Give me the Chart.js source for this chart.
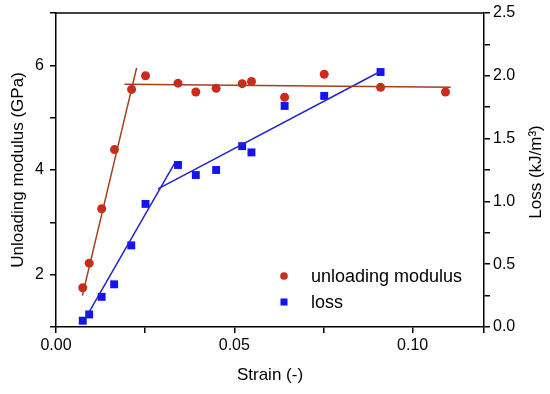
<!DOCTYPE html>
<html>
<head>
<meta charset="utf-8">
<script src="https://cdn.jsdelivr.net/npm/chart.js@4.4.0/dist/chart.umd.min.js"></script>
<style>
  html, body { margin: 0; padding: 0; background: #fff; }
  #wrap { width: 550px; height: 394px; position: relative; }
</style>
</head>
<body>
<div id="wrap"><canvas id="chart"></canvas></div>
<script>
// strain values (shared by both series)
const strain = [0.0075, 0.0093, 0.0128, 0.0164, 0.0212, 0.0251, 0.0342, 0.0392, 0.0449, 0.0522, 0.0548, 0.0641, 0.0752, 0.0910, 0.1092];
// unloading modulus (GPa), left axis
const modulus = [1.75, 2.22, 3.26, 4.39, 5.54, 5.80, 5.66, 5.49, 5.56, 5.65, 5.69, 5.39, 5.83, 5.58, 5.49];
// loss (kJ/m3), right axis - one point less
const lossStrain = [0.0075, 0.0093, 0.0128, 0.0163, 0.0211, 0.0251, 0.0342, 0.0392, 0.0449, 0.0522, 0.0548, 0.0641, 0.0752, 0.0910];
const loss = [0.05, 0.10, 0.24, 0.34, 0.65, 0.98, 1.29, 1.21, 1.25, 1.44, 1.39, 1.76, 1.84, 2.03];

// fit lines, [x0, x1] and [y0, y1]
const modFit1X = [0.0074, 0.0226], modFit1Y = [1.60, 5.95];
const modFit2X = [0.0192, 0.1107], modFit2Y = [5.64, 5.58];
const lossFit1X = [0.0085, 0.0334], lossFit1Y = [0.08, 1.31];
const lossFit2X = [0.0286, 0.0913], lossFit2Y = [1.10, 2.04];

const xTicks = [0, 0.05, 0.10];
const leftTicks = [2, 4, 6];
const rightTicks = [0, 0.5, 1.0, 1.5, 2.0, 2.5];

const RED = '#cc2a1a', RED_LINE = '#a3401c', BLUE = '#1414ee', BLUE_LINE = '#2424c8';
const FONT = 'Liberation Sans, Arial, sans-serif';

function pts(xs, ys) { return xs.map((x, i) => ({ x: x, y: ys[i] })); }
function fitLine(xs, ys, color, axis) {
  return { type: 'line', data: pts(xs, ys), yAxisID: axis, borderColor: color, borderWidth: 1.5,
           pointRadius: 0, showLine: true, fill: false };
}

// top frame line, right axis title (reads upward) and legend inside the plot
const framePlugin = {
  id: 'frame',
  afterDraw(chart) {
    const a = chart.chartArea, ctx = chart.ctx;
    ctx.save();
    ctx.strokeStyle = '#000';
    ctx.lineWidth = 1.5;
    ctx.beginPath();
    ctx.moveTo(a.left, a.top);
    ctx.lineTo(a.right, a.top);
    ctx.stroke();

    // right title
    ctx.save();
    ctx.translate(536, (a.top + a.bottom) / 2 + 2);
    ctx.rotate(-Math.PI / 2);
    ctx.fillStyle = '#000';
    ctx.font = '17px ' + FONT;
    ctx.textAlign = 'center';
    ctx.textBaseline = 'middle';
    ctx.fillText('Loss (kJ/m³)', 0, 0);
    ctx.restore();

    // legend
    ctx.font = '18px ' + FONT;
    ctx.textBaseline = 'middle';
    ctx.fillStyle = RED;
    ctx.beginPath();
    ctx.arc(284, 276, 3.8, 0, Math.PI * 2);
    ctx.fill();
    ctx.fillStyle = BLUE;
    ctx.fillRect(280.5, 298.5, 7, 7);
    ctx.fillStyle = '#000';
    ctx.fillText('unloading modulus', 311, 277);
    ctx.fillText('loss', 311, 303);
    ctx.restore();
  }
};

function fixY(w) {
  return s => { s.width = w; s.paddingTop = 0; s.paddingBottom = 0; };
}

new Chart(document.getElementById('chart'), {
  type: 'scatter',
  data: {
    datasets: [
      fitLine(modFit1X, modFit1Y, RED_LINE, 'y'),
      fitLine(modFit2X, modFit2Y, RED_LINE, 'y'),
      fitLine(lossFit1X, lossFit1Y, BLUE_LINE, 'y1'),
      fitLine(lossFit2X, lossFit2Y, BLUE_LINE, 'y1'),
      { label: 'unloading modulus', data: pts(strain, modulus), yAxisID: 'y',
        pointStyle: 'circle', pointRadius: 4.5, backgroundColor: RED, borderWidth: 0 },
      { label: 'loss', data: pts(lossStrain, loss), yAxisID: 'y1',
        pointStyle: 'rect', pointRadius: 5.6, backgroundColor: BLUE, borderWidth: 0 }
    ]
  },
  options: {
    responsive: true,
    maintainAspectRatio: false,
    animation: false,
    layout: { padding: { top: 13, left: 0, right: 0, bottom: 0 } },
    plugins: { legend: { display: false }, tooltip: { enabled: false } },
    scales: {
      x: {
        type: 'linear', min: 0, max: 0.12,
        afterFit(s) { s.height = 67; s.paddingLeft = 0; s.paddingRight = 0; },
        border: { color: '#000', width: 1.5 },
        grid: { drawOnChartArea: false, tickLength: 6, color: '#000', lineWidth: 1.5 },
        ticks: { stepSize: 0.025, color: '#000', font: { family: FONT, size: 16 }, padding: 3, maxRotation: 0,
                 callback: v => xTicks.some(t => Math.abs(t - v) < 1e-9) ? v.toFixed(2) : '' },
        title: { display: true, text: 'Strain (-)', color: '#000', font: { family: FONT, size: 17 }, padding: { top: 0, bottom: 8 } }
      },
      y: {
        position: 'left', min: 1, max: 7,
        afterFit: fixY(56),
        border: { color: '#000', width: 1.5 },
        grid: { drawOnChartArea: false, tickLength: 6, color: '#000', lineWidth: 1.5 },
        ticks: { stepSize: 1, color: '#000', font: { family: FONT, size: 16 }, padding: 6,
                 callback: v => leftTicks.includes(v) ? String(v) : '' },
        title: { display: true, text: 'Unloading modulus (GPa)', color: '#000', font: { family: FONT, size: 17 }, padding: { top: 8, bottom: 0 } }
      },
      y1: {
        position: 'right', min: 0, max: 2.5,
        afterFit: fixY(66),
        border: { color: '#000', width: 1.5 },
        grid: { drawOnChartArea: false, tickLength: 6, color: '#000', lineWidth: 1.5 },
        ticks: { stepSize: 0.25, color: '#000', font: { family: FONT, size: 16 }, padding: 3,
                 callback: v => rightTicks.some(t => Math.abs(t - v) < 1e-9) ? v.toFixed(1) : '' }
      }
    }
  },
  plugins: [framePlugin]
});
</script>
</body>
</html>
